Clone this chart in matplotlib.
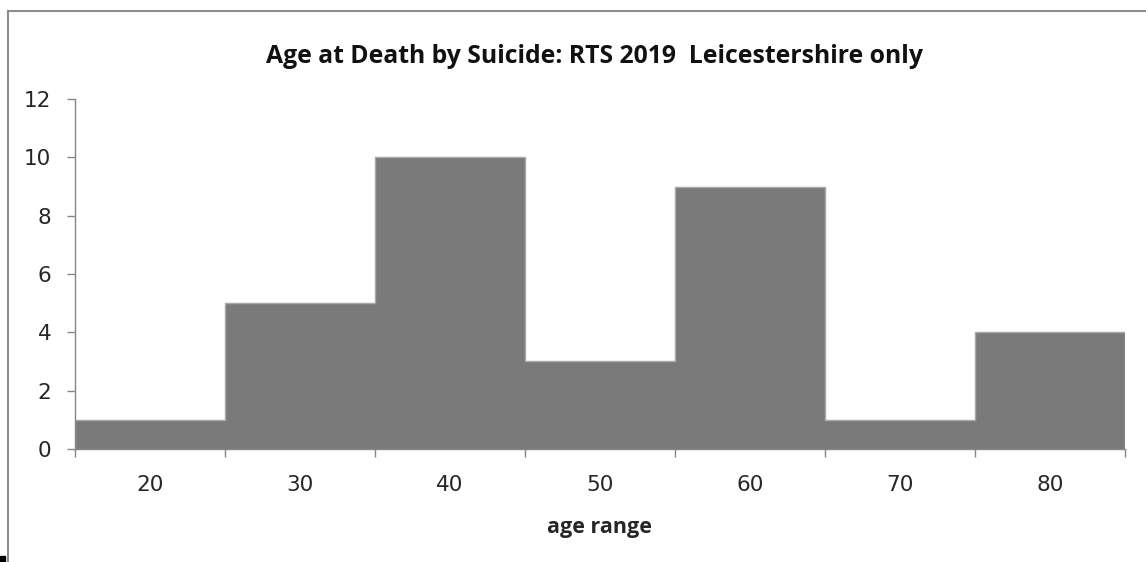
import matplotlib
matplotlib.use("Agg")
import matplotlib.pyplot as plt
from matplotlib.lines import Line2D
from matplotlib.patches import Rectangle

# Deaths by age band (band centres in years)
age_bands = [20, 30, 40, 50, 60, 70, 80]
deaths = [1, 5, 10, 3, 9, 1, 4]
y_ticks = [0, 2, 4, 6, 8, 10, 12]

title = "Age at Death by Suicide: RTS 2019  Leicestershire only"
x_label = "age range"

plt.rcParams["font.family"] = ["DejaVu Sans"]

fig = plt.figure(figsize=(11.46, 5.62), dpi=100)
ax = fig.add_axes([0.0654, 0.2011, 0.9163, 0.6227])

band_width = 10
edges = [a - band_width / 2 for a in age_bands] + [age_bands[-1] + band_width / 2]
ax.bar(age_bands, deaths, width=band_width, color="#7a7a7a",
       edgecolor="none", linewidth=0, zorder=2)
ax.stairs(deaths, edges, color="#a8a8a8", linewidth=1.0, zorder=3)

ax.set_xlim(edges[0], edges[-1])
ax.set_ylim(0, 12)
ax.set_yticks(y_ticks)

# Labels at band centres, tick marks at band edges
ax.set_xticks(age_bands)
ax.set_xticks(edges, minor=True)
ax.tick_params(axis="x", which="major", length=0, pad=19,
               labelsize=15.5, labelcolor="#262626")
ax.tick_params(axis="x", which="minor", length=6, width=1, color="#868686",
               direction="out")
ax.tick_params(axis="y", length=6, width=1, color="#868686", pad=11,
               labelsize=15.5, labelcolor="#262626")

for side in ("top", "right"):
    ax.spines[side].set_visible(False)
for side in ("left", "bottom"):
    ax.spines[side].set_color("#868686")
    ax.spines[side].set_linewidth(1)
    ax.spines[side].set_zorder(4)

fig.text(0.519, 0.899, title, ha="center", va="center", family="Open Sans",
         fontsize=17.8, fontweight="bold", color="#111111")
fig.text(0.523, 0.062, x_label, ha="center", va="center", family="Open Sans",
         fontsize=15.5, fontweight="bold", color="#262626")

# Chart frame (top and left edges)
W, H = 1146, 562
fig.add_artist(Line2D([8 / W, 1.0], [1 - 11 / H, 1 - 11 / H],
                      color="#8c8c8c", linewidth=1.5, transform=fig.transFigure))
fig.add_artist(Line2D([8 / W, 8 / W], [0.0, 1 - 11 / H],
                      color="#8c8c8c", linewidth=1.5, transform=fig.transFigure))
fig.add_artist(Rectangle((0, 0), 5 / W, 6 / H, color="black",
                         transform=fig.transFigure))

fig.savefig("out.png", dpi=100)
